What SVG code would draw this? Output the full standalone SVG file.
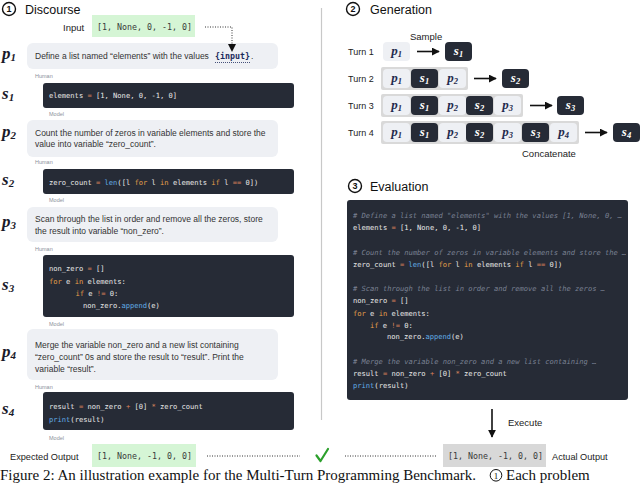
<svg xmlns="http://www.w3.org/2000/svg" width="640" height="484" viewBox="0 0 640 484">
<style>
.t{font-family:"Liberation Sans",Arial,sans-serif;fill:#222}
.h1{font-size:12.5px;fill:#111}
.pr{font-size:8.5px;fill:#333}
.meta{font-family:"Liberation Sans",Arial,sans-serif;font-size:5.5px;fill:#8c919b}
.code{font-family:"DejaVu Sans Mono",monospace;font-size:7.1px;fill:#e8e8e8}
.ecode{font-family:"DejaVu Sans Mono",monospace;font-size:7.1px;fill:#e8e8e8}
.mono{font-family:"DejaVu Sans Mono",monospace;font-size:8.3px;fill:#3a3a3a}
.kw{fill:#e6a04a}.op{fill:#d9825b}.fn{fill:#62aee6}.cm{fill:#7b8294;font-style:italic}
.pbox{fill:#eef0f4}
.sbox{fill:#262b36}
.outer{fill:#d9d9d9}
.lab{font-family:"Liberation Serif","DejaVu Serif",serif;font-style:italic;font-weight:bold;font-size:17px;fill:#1a1a2a}
.gp{font-family:"Liberation Serif","DejaVu Serif",serif;font-style:italic;font-weight:bold;font-size:13px;fill:#1f2a4d}
.gs{font-family:"Liberation Serif","DejaVu Serif",serif;font-style:italic;font-weight:bold;font-size:13px;fill:#ffffff}
.circ{fill:none;stroke:#111;stroke-width:1.4}
.cnum{font-family:"Liberation Sans",Arial,sans-serif;font-size:9px;font-weight:bold;fill:#111}
.arr{stroke:#111;stroke-width:1.6;fill:none}
.dots{stroke:#333;stroke-width:1;stroke-dasharray:1 1.5;fill:none}
.cap{font-family:"Liberation Serif",serif;font-size:15px;fill:#111}
</style>
<defs>
<marker id="ah" viewBox="0 0 10 10" refX="9" refY="5" markerWidth="5" markerHeight="5" orient="auto" markerUnits="strokeWidth">
<path d="M0,0 L10,5 L0,10 z" fill="#111"/>
</marker>
</defs>

<!-- divider -->
<line x1="321.5" y1="8" x2="321.5" y2="420" stroke="#c8c8c8" stroke-width="1.2"/>

<!-- Section 1: Discourse -->
<g id="title1">
<circle class="circ" cx="9" cy="9" r="6.5"/>
<text class="cnum" x="9" y="12.3" text-anchor="middle">1</text>
<text class="t h1" x="25" y="13.5">Discourse</text>
</g>

<g id="input">
<text class="t" x="63" y="31" font-size="9.5">Input</text>
<rect x="92" y="15" width="103" height="22" fill="#d5f5d5"/>
<text class="mono" x="97" y="29.5">[1, None, 0, -1, 0]</text>
</g>

<g id="p1">
<text class="lab" x="2" y="59">p<tspan font-size="11" dy="2">1</tspan></text>
<rect class="pbox" x="27" y="43" width="251" height="26" rx="6"/>
<text class="t pr" x="35" y="58.5">Define a list named “elements” with the values</text>
<text x="215" y="58.5" font-family="DejaVu Sans Mono,monospace" font-size="8.3" font-weight="bold" fill="#1b2a5c">{input}</text>
<text class="t pr" x="251" y="58.5">.</text>
<line x1="215" y1="62.5" x2="250" y2="62.5" stroke="#1b2a5c" stroke-width="0.8" stroke-dasharray="1 1"/>
<text class="meta" x="35" y="78">Human</text>
</g>

<g id="s1">
<text class="lab" x="2" y="99">s<tspan font-size="11" dy="2">1</tspan></text>
<rect class="sbox" x="43" y="83" width="251" height="25" rx="3"/>
<text class="code" x="49" y="98">elements <tspan class="op">=</tspan> [1, None, 0, -1, 0]</text>
<text class="meta" x="49" y="116">Model</text>
</g>

<g id="p2">
<text class="lab" x="2" y="137">p<tspan font-size="11" dy="2">2</tspan></text>
<rect class="pbox" x="27" y="120" width="251" height="37" rx="6"/>
<text class="t pr" x="35" y="135.5">Count the number of zeros in variable elements and store the</text>
<text class="t pr" x="35" y="147">value into variable “zero_count”.</text>
<text class="meta" x="35" y="164">Human</text>
</g>

<g id="s2">
<text class="lab" x="2" y="185">s<tspan font-size="11" dy="2">2</tspan></text>
<rect class="sbox" x="43" y="169" width="251" height="25" rx="3"/>
<text class="code" x="49" y="184.5">zero_count <tspan class="op">=</tspan> <tspan class="fn">len</tspan>([l <tspan class="kw">for</tspan> l <tspan class="kw">in</tspan> elements <tspan class="kw">if</tspan> l <tspan class="op">==</tspan> 0])</text>
<text class="meta" x="49" y="202">Model</text>
</g>

<g id="p3">
<text class="lab" x="2" y="227">p<tspan font-size="11" dy="2">3</tspan></text>
<rect class="pbox" x="27" y="207" width="251" height="35" rx="6"/>
<text class="t pr" x="35" y="222">Scan through the list in order and remove all the zeros, store</text>
<text class="t pr" x="35" y="234">the result into variable “non_zero”.</text>
<text class="meta" x="35" y="251">Human</text>
</g>

<g id="s3">
<text class="lab" x="2" y="290">s<tspan font-size="11" dy="2">3</tspan></text>
<rect class="sbox" x="43" y="255" width="251" height="62" rx="3"/>
<text class="code" x="49" y="271">non_zero <tspan class="op">=</tspan> []</text>
<text class="code" x="49" y="283.5"><tspan class="kw">for</tspan> e <tspan class="kw">in</tspan> elements:</text>
<text class="code" x="75.5" y="296"><tspan class="kw">if</tspan> e <tspan class="op">!=</tspan> 0:</text>
<text class="code" x="83" y="308">non_zero.<tspan class="fn">append</tspan>(e)</text>
<text class="meta" x="49" y="326">Model</text>
</g>

<g id="p4">
<text class="lab" x="2" y="357">p<tspan font-size="11" dy="2">4</tspan></text>
<rect class="pbox" x="27" y="329" width="251" height="51" rx="6"/>
<text class="t pr" x="35" y="348">Merge the variable non_zero and a new list containing</text>
<text class="t pr" x="35" y="360">“zero_count” 0s and store the result to “result”. Print the</text>
<text class="t pr" x="35" y="372">variable “result”.</text>
<text class="meta" x="35" y="389">Human</text>
</g>

<g id="s4">
<text class="lab" x="2" y="414">s<tspan font-size="11" dy="2">4</tspan></text>
<rect class="sbox" x="43" y="392" width="251" height="38" rx="3"/>
<text class="code" x="49" y="408.5">result <tspan class="op">=</tspan> non_zero <tspan class="op">+</tspan> [0] <tspan class="op">*</tspan> zero_count</text>
<text class="code" x="49" y="421.5"><tspan class="fn">print</tspan>(result)</text>
<text class="meta" x="49" y="440">Model</text>
</g>

<!-- Section 2: Generation -->
<g id="title2">
<circle class="circ" cx="353" cy="9" r="6.5"/>
<text class="cnum" x="353" y="12.3" text-anchor="middle">2</text>
<text class="t h1" x="370" y="13.5">Generation</text>
<text class="t" x="410" y="40" font-size="9.5">Sample</text>
</g>

<g id="turn1">
<text class="t" x="348" y="55" font-size="9">Turn 1</text>
<rect class="pbox" x="383" y="42" width="27" height="19" rx="4"/>
<text class="gp" x="396.5" y="55" text-anchor="middle">p<tspan font-size="8.5" dy="1.5">1</tspan></text>
<rect class="sbox" x="445" y="42" width="27" height="19" rx="4"/>
<text class="gs" x="458.5" y="55" text-anchor="middle">s<tspan font-size="8.5" dy="1.5">1</tspan></text>
</g>

<g id="turn2">
<text class="t" x="348" y="82" font-size="9">Turn 2</text>
<rect class="outer" x="381" y="67" width="87" height="23" rx="2"/>
<rect class="pbox" x="383" y="69" width="27" height="19" rx="4"/>
<text class="gp" x="396.5" y="82" text-anchor="middle">p<tspan font-size="8.5" dy="1.5">1</tspan></text>
<rect class="sbox" x="411" y="69" width="27" height="19" rx="4"/>
<text class="gs" x="424.5" y="82" text-anchor="middle">s<tspan font-size="8.5" dy="1.5">1</tspan></text>
<rect class="pbox" x="439" y="69" width="27" height="19" rx="4"/>
<text class="gp" x="452.5" y="82" text-anchor="middle">p<tspan font-size="8.5" dy="1.5">2</tspan></text>
<rect class="sbox" x="502" y="69" width="27" height="19" rx="4"/>
<text class="gs" x="515.5" y="82" text-anchor="middle">s<tspan font-size="8.5" dy="1.5">2</tspan></text>
</g>

<g id="turn3">
<text class="t" x="348" y="109" font-size="9">Turn 3</text>
<rect class="outer" x="381" y="94" width="142" height="23" rx="2"/>
<rect class="pbox" x="383" y="96" width="27" height="19" rx="4"/>
<text class="gp" x="396.5" y="109" text-anchor="middle">p<tspan font-size="8.5" dy="1.5">1</tspan></text>
<rect class="sbox" x="411" y="96" width="27" height="19" rx="4"/>
<text class="gs" x="424.5" y="109" text-anchor="middle">s<tspan font-size="8.5" dy="1.5">1</tspan></text>
<rect class="pbox" x="439" y="96" width="27" height="19" rx="4"/>
<text class="gp" x="452.5" y="109" text-anchor="middle">p<tspan font-size="8.5" dy="1.5">2</tspan></text>
<rect class="sbox" x="466" y="96" width="27" height="19" rx="4"/>
<text class="gs" x="479.5" y="109" text-anchor="middle">s<tspan font-size="8.5" dy="1.5">2</tspan></text>
<rect class="pbox" x="494" y="96" width="27" height="19" rx="4"/>
<text class="gp" x="507.5" y="109" text-anchor="middle">p<tspan font-size="8.5" dy="1.5">3</tspan></text>
<rect class="sbox" x="557" y="96" width="27" height="19" rx="4"/>
<text class="gs" x="570.5" y="109" text-anchor="middle">s<tspan font-size="8.5" dy="1.5">3</tspan></text>
</g>

<g id="turn4">
<text class="t" x="348" y="136" font-size="9">Turn 4</text>
<rect class="outer" x="381" y="121" width="198" height="23" rx="2"/>
<rect class="pbox" x="383" y="123" width="27" height="19" rx="4"/>
<text class="gp" x="396.5" y="136" text-anchor="middle">p<tspan font-size="8.5" dy="1.5">1</tspan></text>
<rect class="sbox" x="411" y="123" width="27" height="19" rx="4"/>
<text class="gs" x="424.5" y="136" text-anchor="middle">s<tspan font-size="8.5" dy="1.5">1</tspan></text>
<rect class="pbox" x="439" y="123" width="27" height="19" rx="4"/>
<text class="gp" x="452.5" y="136" text-anchor="middle">p<tspan font-size="8.5" dy="1.5">2</tspan></text>
<rect class="sbox" x="466" y="123" width="27" height="19" rx="4"/>
<text class="gs" x="479.5" y="136" text-anchor="middle">s<tspan font-size="8.5" dy="1.5">2</tspan></text>
<rect class="pbox" x="494" y="123" width="27" height="19" rx="4"/>
<text class="gp" x="507.5" y="136" text-anchor="middle">p<tspan font-size="8.5" dy="1.5">3</tspan></text>
<rect class="sbox" x="522" y="123" width="27" height="19" rx="4"/>
<text class="gs" x="535.5" y="136" text-anchor="middle">s<tspan font-size="8.5" dy="1.5">3</tspan></text>
<rect class="pbox" x="550" y="123" width="27" height="19" rx="4"/>
<text class="gp" x="563.5" y="136" text-anchor="middle">p<tspan font-size="8.5" dy="1.5">4</tspan></text>
<rect class="sbox" x="613" y="123" width="27" height="19" rx="4"/>
<text class="gs" x="626.5" y="136" text-anchor="middle">s<tspan font-size="8.5" dy="1.5">4</tspan></text>
<text class="t" x="522" y="157" font-size="9.5">Concatenate</text>
</g>

<!-- Section 3: Evaluation -->
<g id="title3">
<circle class="circ" cx="355" cy="186" r="6.5"/>
<text class="cnum" x="355" y="189.3" text-anchor="middle">3</text>
<text class="t h1" x="370" y="190.5">Evaluation</text>
</g>

<g id="evalcode">
<rect class="sbox" x="347" y="200" width="281" height="200" rx="3"/>
<text class="ecode cm" x="353" y="217.5"># Define a list named "elements" with the values [1, None, 0, …</text>
<text class="ecode" x="353" y="230">elements <tspan class="op">=</tspan> [1, None, 0, -1, 0]</text>
<text class="ecode cm" x="353" y="255"># Count the number of zeros in variable elements and store the …</text>
<text class="ecode" x="353" y="266.5">zero_count <tspan class="op">=</tspan> <tspan class="fn">len</tspan>([l <tspan class="kw">for</tspan> l <tspan class="kw">in</tspan> elements <tspan class="kw">if</tspan> l <tspan class="op">==</tspan> 0])</text>
<text class="ecode cm" x="353" y="291"># Scan through the list in order and remove all the zeros …</text>
<text class="ecode" x="353" y="303">non_zero <tspan class="op">=</tspan> []</text>
<text class="ecode" x="353" y="315.5"><tspan class="kw">for</tspan> e <tspan class="kw">in</tspan> elements:</text>
<text class="ecode" x="370" y="327.5"><tspan class="kw">if</tspan> e <tspan class="op">!=</tspan> 0:</text>
<text class="ecode" x="387" y="339"><tspan>non_zero.</tspan><tspan class="fn">append</tspan>(e)</text>
<text class="ecode cm" x="353" y="364"># Merge the variable non_zero and a new list containing …</text>
<text class="ecode" x="353" y="376">result <tspan class="op">=</tspan> non_zero <tspan class="op">+</tspan> [0] <tspan class="op">*</tspan> zero_count</text>
<text class="ecode" x="353" y="388"><tspan class="fn">print</tspan>(result)</text>
</g>

<g id="execute">
<text class="t" x="508" y="426" font-size="9.5">Execute</text>
</g>

<!-- Bottom row -->
<g id="expected">
<text class="t" x="10" y="459.5" font-size="9.2">Expected Output</text>
<rect x="92" y="444" width="104" height="23" fill="#d5f5d5"/>
<text class="mono" x="97" y="459">[1, None, -1, 0, 0]</text>
</g>
<g id="check">
<path d="M316.5,455.5 L320.5,461 L328,449" fill="none" stroke="#2ca02c" stroke-width="2.2" stroke-linecap="round" stroke-linejoin="round"/>
</g>
<g id="actual">
<rect x="443" y="444" width="103" height="23" fill="#d8d8d8"/>
<text class="mono" x="448" y="459">[1, None, -1, 0, 0]</text>
<text class="t" x="552" y="459.5" font-size="9.2">Actual Output</text>
</g>

<!-- connectors -->
<g id="connectors">
<polyline class="dots" points="205,27 232,27 232,44" stroke-width="1.3"/>
<path d="M228,44 L236,44 L232,52 z" fill="#111"/>
<line class="arr" x1="417" y1="51.5" x2="439" y2="51.5" marker-end="url(#ah)"/>
<line class="arr" x1="474" y1="78.5" x2="496" y2="78.5" marker-end="url(#ah)"/>
<line class="arr" x1="530" y1="105.5" x2="552" y2="105.5" marker-end="url(#ah)"/>
<line class="arr" x1="585" y1="132.5" x2="607" y2="132.5" marker-end="url(#ah)"/>
<line class="arr" x1="492" y1="409" x2="492" y2="437" marker-end="url(#ah)"/>
<line class="dots" x1="207" y1="456" x2="300" y2="456"/>
<line class="dots" x1="345" y1="456" x2="436" y2="456"/>
</g>

<!-- caption -->
<g id="caption">
<text class="cap" x="0" y="480.3">Figure 2: An illustration example for the Multi-Turn Programming Benchmark.</text>
<circle cx="496" cy="475.3" r="5.8" fill="none" stroke="#111" stroke-width="1"/>
<text x="496" y="478.6" text-anchor="middle" font-family="Liberation Serif,serif" font-size="9" fill="#111">1</text>
<text class="cap" x="506" y="480.3">Each problem</text>
</g>
</svg>
